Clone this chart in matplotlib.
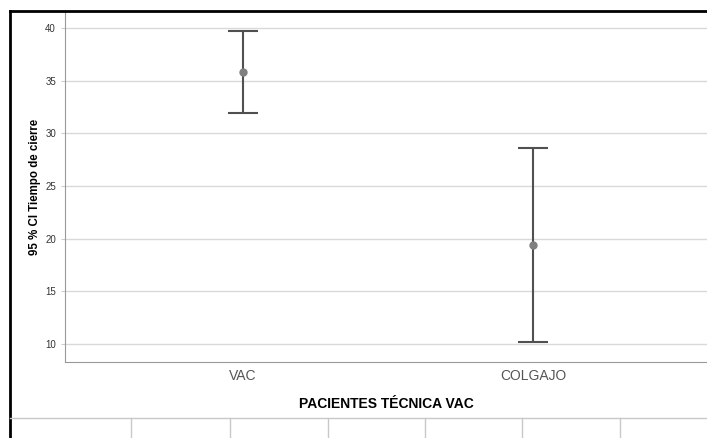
import matplotlib
matplotlib.use('Agg')
import matplotlib.pyplot as plt
from matplotlib.lines import Line2D

plt.rcParams['font.family'] = ['Liberation Sans', 'DejaVu Sans']

groups = ['VAC', 'COLGAJO']
means = [35.8, 19.4]
lower = [31.9, 10.2]
upper = [39.7, 28.6]
yticks = [10, 15, 20, 25, 30, 35, 40]

fig = plt.figure(figsize=(7.07, 4.38), dpi=100)
ax = fig.add_axes([65/707, 76/438, 1 - 65/707, (362 - 12)/438])

x = list(range(len(groups)))
err = [[m - l for m, l in zip(means, lower)], [u - m for m, u in zip(means, upper)]]
ax.errorbar(x, means, yerr=err, fmt='o', color='#808080', ms=5,
            ecolor='#505050', elinewidth=1.5, capsize=11, capthick=1.5, zorder=3)

ax.set_xlim(-0.614, 1.6)
ax.set_ylim(8.29, 41.52)
ax.set_yticks(yticks)
ax.set_xticks(x)
ax.set_xticklabels(groups, fontsize=10, color='#555555')
ax.tick_params(axis='y', labelsize=7, colors='#333333', length=3, color='#cccccc')
ax.tick_params(axis='x', length=0, pad=5)
ax.grid(True, axis='y', color='#d9d9d9', lw=1)
ax.set_axisbelow(True)
for s in ['top', 'right']:
    ax.spines[s].set_visible(False)
ax.spines['left'].set_color('#999999')
ax.spines['bottom'].set_color('#999999')

ax.set_xlabel('PACIENTES TÉCNICA VAC', fontsize=10, fontweight='bold', labelpad=10)
ax.set_ylabel('95 % CI Tiempo de cierre', fontsize=8.3, fontweight='bold', labelpad=3)

# outer frame and the table cells underneath
H = 438
W = 707
fig.add_artist(Line2D([10/W, 1], [1 - 11/H, 1 - 11/H], color='black', lw=2))
fig.add_artist(Line2D([10/W, 10/W], [0, 1 - 11/H], color='black', lw=2))
fig.add_artist(Line2D([10/W, 1], [1 - 418/H, 1 - 418/H], color='#c8c8c8', lw=1))
for cx in [131, 230, 328, 425, 522, 620]:
    fig.add_artist(Line2D([cx/W, cx/W], [0, 1 - 418/H], color='#c8c8c8', lw=1))

fig.savefig('out.png', dpi=100)
